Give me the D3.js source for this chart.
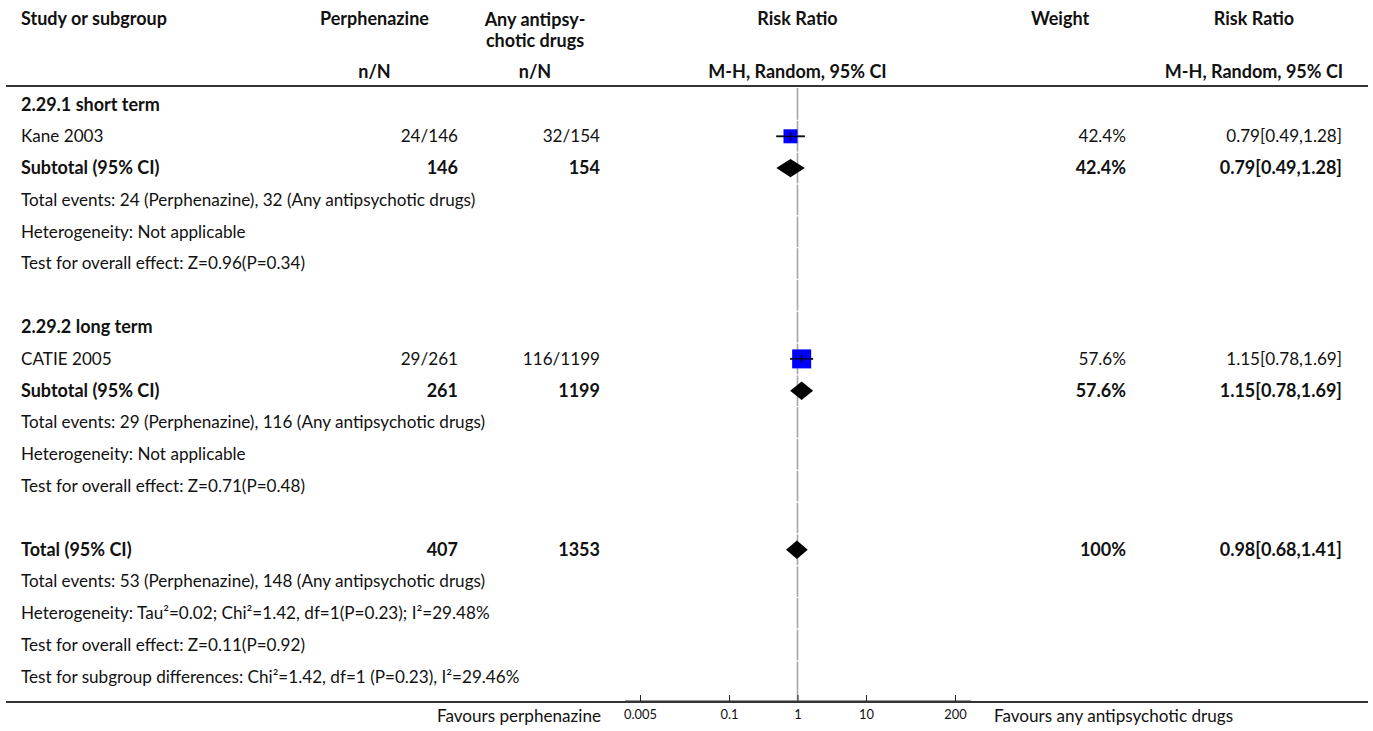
<!DOCTYPE html>
<html>
<head>
<meta charset="utf-8">
<script src="https://cdn.jsdelivr.net/npm/d3@7"></script>
<style>
  html, body { margin: 0; padding: 0; background: #fff; }
  svg { display: block; }
  text { font-family: Lato, "Source Sans Pro", sans-serif; fill: #111; }
</style>
</head>
<body>
<svg id="chart" width="1373" height="731"></svg>
<script>
// ---------- data ----------
const groupLabels = ["2.29.1 short term", "2.29.2 long term"];
const studyNames = ["Kane 2003", "CATIE 2005"];
const expEvents = [24, 29];
const expTotal = [146, 261];
const ctrlEvents = [32, 116];
const ctrlTotal = [154, 1199];
const studyRR = [0.79, 1.15];
const studyLo = [0.49, 0.78];
const studyHi = [1.28, 1.69];
const studyWeight = [42.4, 57.6];

const subtotalRR = [0.79, 1.15];
const subtotalLo = [0.49, 0.78];
const subtotalHi = [1.28, 1.69];
const subtotalWeight = [42.4, 57.6];
const groupEventsText = [
  "Total events: 24 (Perphenazine), 32 (Any antipsychotic drugs)",
  "Total events: 29 (Perphenazine), 116 (Any antipsychotic drugs)"
];
const groupHetText = ["Heterogeneity: Not applicable", "Heterogeneity: Not applicable"];
const groupEffectText = ["Test for overall effect: Z=0.96(P=0.34)", "Test for overall effect: Z=0.71(P=0.48)"];

const totalExp = 407;
const totalCtrl = 1353;
const totalRR = 0.98, totalLo = 0.68, totalHi = 1.41;
const totalWeight = "100%";
const totalTexts = [
  "Total events: 53 (Perphenazine), 148 (Any antipsychotic drugs)",
  "Heterogeneity: Tau\u00B2=0.02; Chi\u00B2=1.42, df=1(P=0.23); I\u00B2=29.48%",
  "Test for overall effect: Z=0.11(P=0.92)",
  "Test for subgroup differences: Chi\u00B2=1.42, df=1 (P=0.23), I\u00B2=29.46%"
];

const tickValues = [0.005, 0.1, 1, 10, 200];
const tickLabels = ["0.005", "0.1", "1", "10", "200"];
const favoursLeft = "Favours perphenazine";
const favoursRight = "Favours any antipsychotic drugs";

// ---------- layout ----------
const svg = d3.select("#chart");

// calibrate font sizes so text widths match the reference (average over samples)
function fitSize(samples, weight) {
  const ratios = samples.map(([str, target]) => {
    const t = svg.append("text").attr("font-size", 20).attr("font-weight", weight).text(str);
    const w = t.node().getComputedTextLength();
    t.remove();
    return 20 * target / w;
  });
  return d3.mean(ratios);
}
const FS = fitSize([["Test for overall effect: Z=0.11(P=0.92)", 284],
                    ["Heterogeneity: Tau\u00B2=0.02; Chi\u00B2=1.42, df=1(P=0.23", 378]], "normal");
const FSB = fitSize([["Study or subgroup", 151], ["2.29.1 short term", 141],
                     ["M-H, Random, 95% CI", 175], ["Risk Ratio", 81], ["Weight", 56]], "bold");
const FST = fitSize([["0.005", 35], ["200", 21]], "normal");

const colStudy = 21, colExp = 458, colCtrl = 600, colW = 1126, colRR = 1342;
const hdrExp = 374.5, hdrCtrl = 535, hdrW = 1060, hdrRR = 1254;

const x = d3.scaleLog().domain([0.005, 200]).range([640, 955]);
const rowY = d3.scaleLinear().domain([0, 1]).range([104.5, 136.3]);
const sqSize = d3.scaleLinear().domain([0, 100]).range([0, 33]);
const fmt = (v, lo, hi) => `${v.toFixed(2)}[${lo.toFixed(2)},${hi.toFixed(2)}]`;

// build rows
const rows = [];
groupLabels.forEach((g, i) => {
  rows.push({type: "group", label: g});
  rows.push({type: "study", label: studyNames[i], e: `${expEvents[i]}/${expTotal[i]}`, c: `${ctrlEvents[i]}/${ctrlTotal[i]}`,
             rr: studyRR[i], lo: studyLo[i], hi: studyHi[i], w: studyWeight[i]});
  rows.push({type: "subtotal", label: "Subtotal (95% CI)", e: `${expTotal[i]}`, c: `${ctrlTotal[i]}`,
             rr: subtotalRR[i], lo: subtotalLo[i], hi: subtotalHi[i], w: subtotalWeight[i]});
  rows.push({type: "text", label: groupEventsText[i]});
  rows.push({type: "text", label: groupHetText[i]});
  rows.push({type: "text", label: groupEffectText[i]});
  rows.push({type: "blank"});
});
rows.push({type: "subtotal", label: "Total (95% CI)", e: `${totalExp}`, c: `${totalCtrl}`,
           rr: totalRR, lo: totalLo, hi: totalHi, wText: totalWeight});
totalTexts.forEach(t => rows.push({type: "text", label: t}));

const nRows = rows.length;
const step = rowY(1) - rowY(0);
const axisY = 702;

// header
const hdr = svg.append("g").attr("font-weight", "bold").attr("font-size", FSB);
hdr.append("text").attr("x", colStudy).attr("y", 25).text("Study or subgroup");
hdr.append("text").attr("x", hdrExp).attr("y", 25).attr("text-anchor", "middle").text("Perphenazine");
hdr.append("text").attr("x", hdrCtrl).attr("y", 26).attr("text-anchor", "middle").text("Any antipsy-");
hdr.append("text").attr("x", hdrCtrl).attr("y", 47).attr("text-anchor", "middle").text("chotic drugs");
hdr.append("text").attr("x", x(1)).attr("y", 25).attr("text-anchor", "middle").text("Risk Ratio");
hdr.append("text").attr("x", hdrW).attr("y", 25).attr("text-anchor", "middle").text("Weight");
hdr.append("text").attr("x", hdrRR).attr("y", 25).attr("text-anchor", "middle").text("Risk Ratio");
hdr.append("text").attr("x", hdrExp).attr("y", 78).attr("text-anchor", "middle").text("n/N");
hdr.append("text").attr("x", hdrCtrl).attr("y", 78).attr("text-anchor", "middle").text("n/N");
hdr.append("text").attr("x", x(1)).attr("y", 78).attr("text-anchor", "middle").text("M-H, Random, 95% CI");
hdr.append("text").attr("x", hdrRR).attr("y", 78).attr("text-anchor", "middle").text("M-H, Random, 95% CI");

svg.append("line").attr("x1", 6).attr("x2", 1368).attr("y1", 86).attr("y2", 86)
  .attr("stroke", "#333").attr("stroke-width", 2);

// vertical line of no effect, segmented by rows
const segs = d3.range(nRows).map(i => {
  const top = i === 0 ? 88 : rowY(i) - step / 2 + 0.6;
  const bot = i === nRows - 1 ? axisY : rowY(i) + step / 2 - 0.6;
  return [top, bot];
});
svg.append("g").selectAll("line").data(segs).join("line")
  .attr("x1", x(1)).attr("x2", x(1)).attr("y1", d => d[0]).attr("y2", d => d[1])
  .attr("stroke", "#a6a6a6").attr("stroke-width", 1.6);

// rows
const g = svg.append("g");
rows.forEach((r, i) => {
  const y = rowY(i);
  if (r.type === "blank") return;
  const bold = r.type === "group" || r.type === "subtotal";
  const fs = bold ? FSB : FS;
  g.append("text").attr("x", colStudy).attr("y", y).attr("dy", "0.35em").attr("font-size", fs)
    .attr("font-weight", bold ? "bold" : "normal").text(r.label);
  if (r.type === "study" || r.type === "subtotal") {
    const fw = r.type === "subtotal" ? "bold" : "normal";
    const cells = [[colExp, r.e], [colCtrl, r.c], [colW, r.wText ? r.wText : `${r.w.toFixed(1)}%`], [colRR, fmt(r.rr, r.lo, r.hi)]];
    cells.forEach(([cx, txt]) => {
      g.append("text").attr("x", cx).attr("y", y).attr("dy", "0.35em").attr("text-anchor", "end")
        .attr("font-size", fs).attr("font-weight", fw).text(txt);
    });
  }
  if (r.type === "study") {
    const s = sqSize(r.w);
    g.append("line").attr("x1", x(r.lo)).attr("x2", x(r.hi)).attr("y1", y).attr("y2", y)
      .attr("stroke", "#666").attr("stroke-width", 2.2);
    g.append("rect").attr("x", x(r.rr) - s / 2).attr("y", y - s / 2).attr("width", s).attr("height", s)
      .attr("fill", "#0000ff");
    g.append("line").attr("x1", x(r.lo)).attr("x2", x(r.hi)).attr("y1", y).attr("y2", y)
      .attr("stroke", "#000").attr("stroke-width", 1.1);
    g.append("line").attr("x1", x(r.rr)).attr("x2", x(r.rr)).attr("y1", y - 4).attr("y2", y + 4)
      .attr("stroke", "#000").attr("stroke-width", 1.4);
  }
  if (r.type === "subtotal") {
    const h = 9.2;
    const pts = [[x(r.lo), y], [x(r.rr), y - h], [x(r.hi), y], [x(r.rr), y + h]];
    g.append("path").attr("d", d3.line()(pts) + "Z").attr("fill", "#000");
  }
});

// bottom axis
svg.append("line").attr("x1", 6).attr("x2", 1368).attr("y1", axisY).attr("y2", axisY)
  .attr("stroke", "#333").attr("stroke-width", 2);
svg.append("line").attr("x1", x(0.005) - 15).attr("x2", x(200) + 16).attr("y1", axisY - 1.5).attr("y2", axisY - 1.5)
  .attr("stroke", "#999").attr("stroke-width", 1);
const axis = d3.axisBottom(x).tickValues(tickValues).tickSize(-6).tickPadding(9)
  .tickFormat((d, i) => tickLabels[i]);
const ax = svg.append("g").attr("transform", `translate(0,${axisY - 1})`).call(axis);
ax.select(".domain").remove();
ax.selectAll(".tick line").attr("stroke", "#222");
ax.selectAll(".tick text").attr("font-family", "Lato, sans-serif").attr("font-size", FST).attr("fill", "#111");

svg.append("text").attr("x", 601).attr("y", 716).attr("dy", "0.35em").attr("text-anchor", "end")
  .attr("font-size", FS).text(favoursLeft);
svg.append("text").attr("x", 994).attr("y", 716).attr("dy", "0.35em")
  .attr("font-size", FS).text(favoursRight);
</script>
</body>
</html>
